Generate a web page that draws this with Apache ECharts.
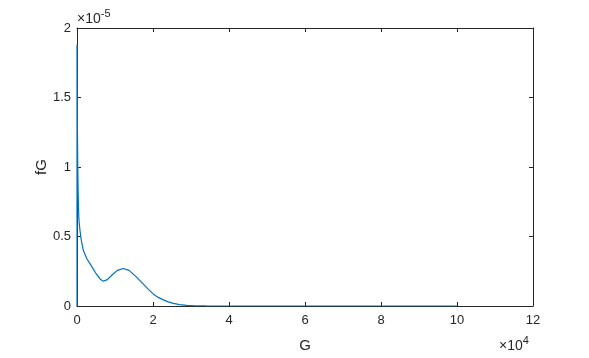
<!DOCTYPE html>
<html>
<head>
<meta charset="utf-8">
<script src="https://cdn.jsdelivr.net/npm/echarts@6/dist/echarts.min.js"></script>
<style>
html,body{margin:0;padding:0;background:#fff;}
#c{width:589px;height:358px;}
</style>
</head>
<body>
<div id="c"></div>
<script>
// Data (G, fG)
const G = [0, 0, 100, 200, 300, 400, 527, 790, 1133, 1659, 2555, 3609, 4926, 6058, 6927, 7981, 9298, 10615, 12195, 13697, 15462, 17200, 18800, 20100, 21400, 22700, 24000, 25400, 27000, 28900, 31000, 34000, 38000, 45000, 100000];
const fG = [0, 1.88e-5, 1.3e-5, 1.0e-5, 8.2e-6, 7.0e-6, 6.13e-6, 5.42e-6, 4.72e-6, 4.01e-6, 3.42e-6, 2.96e-6, 2.37e-6, 1.95e-6, 1.78e-6, 1.90e-6, 2.25e-6, 2.56e-6, 2.70e-6, 2.56e-6, 2.13e-6, 1.65e-6, 1.2e-6, 0.85e-6, 0.62e-6, 0.44e-6, 0.30e-6, 0.19e-6, 0.10e-6, 0.04e-6, 0.015e-6, 0.004e-6, 0.001e-6, 0, 0];
const xTicks = [0, 2, 4, 6, 8, 10, 12];
const yTicks = [0, 0.5, 1, 1.5, 2];

const chart = echarts.init(document.getElementById('c'), null, {renderer: 'canvas'});
const font = 'Helvetica, Arial, "Liberation Sans", sans-serif';
const txt = '#262626';
const axisLine = {show: true, onZero: false, lineStyle: {color: '#262626', width: 1}};
const tick = {show: true, inside: true, length: 4, lineStyle: {color: '#262626'}};

chart.setOption({
  animation: false,
  grid: {left: 77, right: 56, top: 28, bottom: 46, containLabel: false},
  xAxis: [{
    type: 'value', min: 0, max: 120000, interval: 20000, position: 'bottom',
    axisLine: axisLine, axisTick: tick, splitLine: {show: false},
    axisLabel: {color: txt, fontSize: 13, fontFamily: font, margin: 8,
      formatter: v => String(xTicks[Math.round(v / 20000)])},
    name: 'G', nameLocation: 'middle', nameGap: 32, nameMoveOverlap: false,
    nameTextStyle: {color: txt, fontSize: 15, fontFamily: font}
  }, {
    type: 'value', min: 0, max: 120000, interval: 20000, position: 'top',
    axisLine: axisLine, axisTick: tick, splitLine: {show: false}, axisLabel: {show: false}
  }],
  yAxis: [{
    type: 'value', min: 0, max: 2e-5, interval: 0.5e-5, position: 'left',
    axisLine: axisLine, axisTick: tick, splitLine: {show: false},
    axisLabel: {color: txt, fontSize: 13, fontFamily: font, margin: 6,
      formatter: v => String(yTicks[Math.round(v / 0.5e-5)])},
    name: 'fG', nameLocation: 'middle', nameGap: 28, nameRotate: 90, nameMoveOverlap: false,
    nameTextStyle: {color: txt, fontSize: 15, fontFamily: font}
  }, {
    type: 'value', min: 0, max: 2e-5, interval: 0.5e-5, position: 'right',
    axisLine: axisLine, axisTick: tick, splitLine: {show: false}, axisLabel: {show: false}
  }],
  series: [{
    type: 'line', xAxisIndex: 0, yAxisIndex: 0,
    data: G.map((g, i) => [g, fG[i]]),
    showSymbol: false, smooth: false,
    lineStyle: {color: '#0072BD', width: 1.2},
    clip: true
  }],
  graphic: [{
    type: 'text', left: 77, top: 8,
    style: {
      text: '{a|×10}{b|-5}',
      rich: {
        a: {fontSize: 14, fontFamily: font, fill: txt, verticalAlign: 'bottom', lineHeight: 18},
        b: {fontSize: 11, fontFamily: font, fill: txt, verticalAlign: 'top', lineHeight: 11, padding: [0,0,9,0]}
      }
    }
  }, {
    type: 'text', left: 499, top: 335,
    style: {
      text: '{a|×10}{b|4}',
      rich: {
        a: {fontSize: 14, fontFamily: font, fill: txt, verticalAlign: 'bottom', lineHeight: 18},
        b: {fontSize: 11, fontFamily: font, fill: txt, verticalAlign: 'top', lineHeight: 11, padding: [0,0,9,0]}
      }
    }
  }]
});
</script>
</body>
</html>
